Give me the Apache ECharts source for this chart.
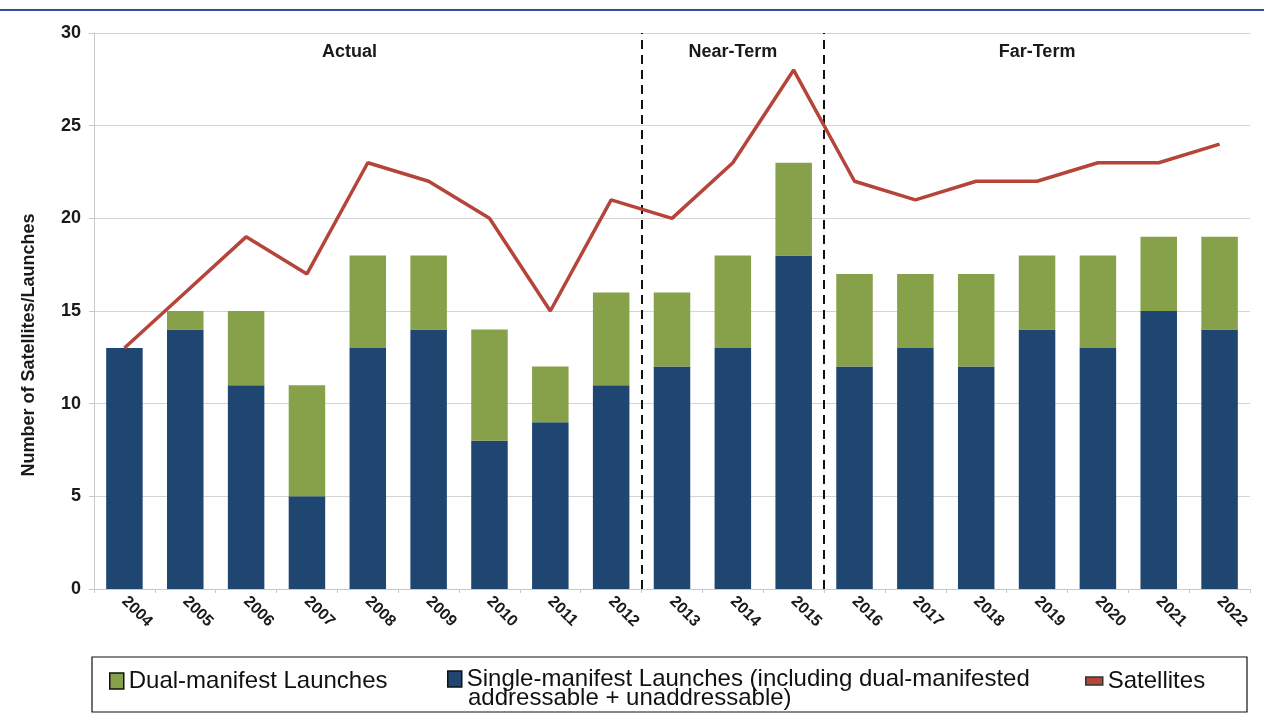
<!DOCTYPE html>
<html>
<head>
<meta charset="utf-8">
<script src="https://cdn.jsdelivr.net/npm/echarts@6/dist/echarts.min.js"></script>
<style>
html,body{margin:0;padding:0;background:#fff;}
#chart{width:1264px;height:717px;}
</style>
</head>
<body>
<div id="chart"></div>
<script>
var years = ['2004','2005','2006','2007','2008','2009','2010','2011','2012','2013','2014','2015','2016','2017','2018','2019','2020','2021','2022'];
var singleManifest = [13,14,11,5,13,14,8,9,11,12,13,18,12,13,12,14,13,15,14];
var dualManifest = [0,1,4,6,5,4,6,3,5,4,5,5,5,4,5,4,5,4,5];
var satellites = [13,16,19,17,23,22,20,15,21,20,23,28,22,21,22,22,23,23,24];
// period dividers and labels, in category units on a hidden value axis
var dividers = [9,12];
var periods = [['Actual',4.2],['Near-Term',10.5],['Far-Term',15.5]];

var blue = '#1e4670', green = '#87a14b', red = '#b5453b';
var font = 'Liberation Sans';
var singleName = 'Single-manifest Launches (including dual-manifested\naddressable + unaddressable)';

var myChart = echarts.init(document.getElementById('chart'));
var option = {
	animation:false,
	textStyle:{fontFamily:font},
	grid:{left:94,right:14,top:33,bottom:128},
	xAxis:[{
		type:'category',
		data:years,
		axisLine:{lineStyle:{color:'#c8c8c8'}},
		axisTick:{show:true,length:4,lineStyle:{color:'#c8c8c8'}},
		axisLabel:{rotate:-45,margin:10,color:'#1a1a1a',fontWeight:'bold',fontSize:16}
	},{
		type:'value',min:0,max:19,show:false
	}],
	yAxis:{
		type:'value',min:0,max:30,interval:5,
		axisLine:{show:true,lineStyle:{color:'#c8c8c8'}},
		axisTick:{show:true,length:5,lineStyle:{color:'#c8c8c8'}},
		axisLabel:{color:'#1a1a1a',fontWeight:'bold',fontSize:18,margin:13},
		splitLine:{lineStyle:{color:'#d4d4d4',width:1}}
	},
	legend:[
		{left:104,top:664,itemWidth:14,itemHeight:16,itemGap:6,textStyle:{fontSize:24,color:'#111',fontFamily:font},
		 data:[{name:'Dual-manifest Launches',icon:'rect',itemStyle:{borderColor:'#111',borderWidth:1.5}}]},
		{left:442,top:662,itemWidth:14,itemHeight:16,itemGap:6,textStyle:{fontSize:24,color:'#111',fontFamily:font},
		 formatter:function(name){return name.split('\n')[0];},
		 data:[{name:singleName,icon:'rect',itemStyle:{borderColor:'#111',borderWidth:1.5}}]},
		{left:1080,top:664,itemWidth:17,itemHeight:8,itemGap:6,textStyle:{fontSize:24,color:'#111',fontFamily:font},
		 data:[{name:'Satellites',icon:'rect',itemStyle:{color:red,borderColor:'#333',borderWidth:1.5}}]}
	],
	graphic:[
		{type:'rect',shape:{x:92,y:657,width:1155,height:55},style:{fill:'none',stroke:'#111',lineWidth:1.2},silent:true},
		{type:'rect',shape:{x:0,y:9,width:1264,height:2},style:{fill:'#2e4fa0'},silent:true},
		{type:'text',x:468,y:698,style:{text:singleName.split('\n')[1],font:'24px '+font,fill:'#111',textVerticalAlign:'middle'},silent:true},
		{type:'text',x:29,y:345,rotation:Math.PI/2,style:{text:'Number of Satellites/Launches',font:'bold 18px '+font,fill:'#1a1a1a',textAlign:'center',textVerticalAlign:'middle'}}
	],
	series:[
		{
			name:singleName,
			type:'bar',stack:'launch',data:singleManifest,barCategoryGap:'40%',
			itemStyle:{color:blue}
		},
		{
			name:'Dual-manifest Launches',
			type:'bar',stack:'launch',data:dualManifest,
			itemStyle:{color:green}
		},
		{
			name:'Satellites',
			type:'line',data:satellites,symbol:'none',z:5,
			lineStyle:{color:red,width:3.5},itemStyle:{color:red}
		},
		{
			name:'periods',
			type:'scatter',xAxisIndex:1,symbolSize:0,silent:true,
			itemStyle:{opacity:1},
			data:periods.map(function(p){return {value:[p[1],29],name:p[0]};}),
			label:{show:true,formatter:'{b}',position:'inside',color:'#1a1a1a',fontWeight:'bold',fontSize:18},
			markLine:{
				silent:true,symbol:'none',
				lineStyle:{color:'#111',type:[9,6],width:2,opacity:1},
				label:{show:false},
				data:dividers.map(function(d){return {xAxis:d};})
			}
		}
	]
};
myChart.setOption(option);
</script>
</body>
</html>
